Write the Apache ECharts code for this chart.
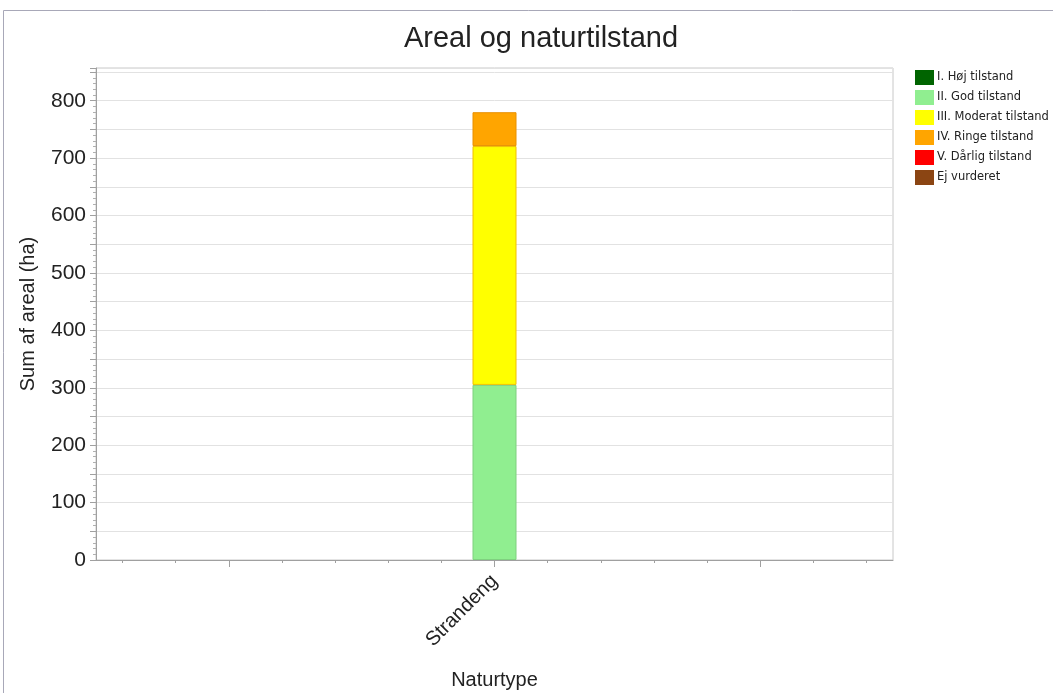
<!DOCTYPE html>
<html>
<head>
<meta charset="utf-8">
<script src="https://cdn.jsdelivr.net/npm/echarts@6/dist/echarts.min.js"></script>
<style>html,body{margin:0;padding:0;background:#fff}#c{width:1053px;height:693px}</style>
</head>
<body>
<div id="c"></div>
<script>
var categories = ['Strandeng'];
var seriesNames = ['I. Høj tilstand', 'II. God tilstand', 'III. Moderat tilstand', 'IV. Ringe tilstand', 'V. Dårlig tilstand', 'Ej vurderet'];
var hoej = [0];
var god = [305];
var moderat = [416];
var ringe = [59];
var daarlig = [0];
var ejVurderet = [0];
var colors = ['#006400', '#90EE90', '#FFFF00', '#FFA500', '#FF0000', '#8B4513'];
var borders = ['#005000', '#7fd07f', '#f0c000', '#e89000', '#d00000', '#70360f'];
var minorSlots = ['', '', '', '', '', '', '', '', '', '', '', '', '', '', ''];
var majorSlots = ['', '', ''];

var allData = [hoej, god, moderat, ringe, daarlig, ejVurderet];
var chart = echarts.init(document.getElementById('c'));
var font = 'Liberation Sans, Arial, sans-serif';
var series = seriesNames.map(function (n, i) {
  return {
    name: n, type: 'bar', stack: 'total', xAxisIndex: 0, yAxisIndex: 0,
    data: allData[i].map(function (v) {
      return { value: v, itemStyle: { borderWidth: v > 0 ? 1 : 0 } };
    }),
    barWidth: 44,
    itemStyle: { color: colors[i], borderColor: borders[i] },
    emphasis: { disabled: true }
  };
});
chart.setOption({
  animation: false,
  title: {
    text: 'Areal og naturtilstand', left: 536, top: 19, textAlign: 'center',
    textStyle: { fontFamily: font, fontSize: 29, fontWeight: 'normal', color: '#222' }
  },
  legend: {
    orient: 'vertical', left: 910, top: 65, itemWidth: 19, itemHeight: 15, itemGap: 5,
    icon: 'rect', selectedMode: false,
    itemStyle: { borderWidth: 0 },
    textStyle: { fontFamily: 'DejaVu Sans, sans-serif', fontSize: 11.5, lineHeight: 15, color: '#222', padding: [0, 0, 0, -2] },
    data: seriesNames
  },
  graphic: [{
    type: 'rect', shape: { x: 3.5, y: 10.5, width: 1060, height: 700 },
    style: { fill: 'none', stroke: '#a8a8b8', lineWidth: 1 }, silent: true
  }],
  grid: { left: 96, right: 160, top: 68, bottom: 133, outerBoundsMode: 'none', containLabel: false, show: true, borderColor: '#c8c8c8', borderWidth: 1 },
  xAxis: [{
    type: 'category', data: categories, position: 'bottom',
    name: 'Naturtype', nameLocation: 'middle', nameGap: 110,
    nameTextStyle: { fontFamily: font, fontSize: 20, color: '#222' },
    axisLine: { lineStyle: { color: '#a0a0a0' } },
    axisTick: { show: false },
    axisLabel: { rotate: 45, fontFamily: font, fontSize: 20, color: '#222', margin: 18 }
  }, {
    type: 'category', data: minorSlots, position: 'bottom', boundaryGap: true,
    axisLine: { show: false }, axisLabel: { show: false },
    axisTick: { show: true, alignWithLabel: true, length: 3, lineStyle: { color: '#a0a0a0' } }
  }, {
    type: 'category', data: majorSlots, position: 'bottom', boundaryGap: true,
    axisLine: { show: false }, axisLabel: { show: false },
    axisTick: { show: true, alignWithLabel: true, length: 7, lineStyle: { color: '#a0a0a0' } }
  }],
  yAxis: {
    type: 'value', min: 0, max: 857, interval: 50,
    name: 'Sum af areal (ha)', nameLocation: 'middle', nameGap: 58,
    nameTextStyle: { fontFamily: font, fontSize: 20, color: '#222' },
    axisLine: { show: true, lineStyle: { color: '#a0a0a0' } },
    axisTick: { show: true, length: 6, lineStyle: { color: '#a0a0a0' } },
    minorTick: { show: true, splitNumber: 5, length: 3, lineStyle: { color: '#b0b0b0' } },
    splitLine: { show: true, lineStyle: { color: '#e2e2e2' } },
    axisLabel: {
      fontFamily: font, fontSize: 21, color: '#222', margin: 10, showMaxLabel: false,
      formatter: function (v) { return v % 100 === 0 ? String(v) : ''; }
    }
  },
  series: series
});
</script>
</body>
</html>
